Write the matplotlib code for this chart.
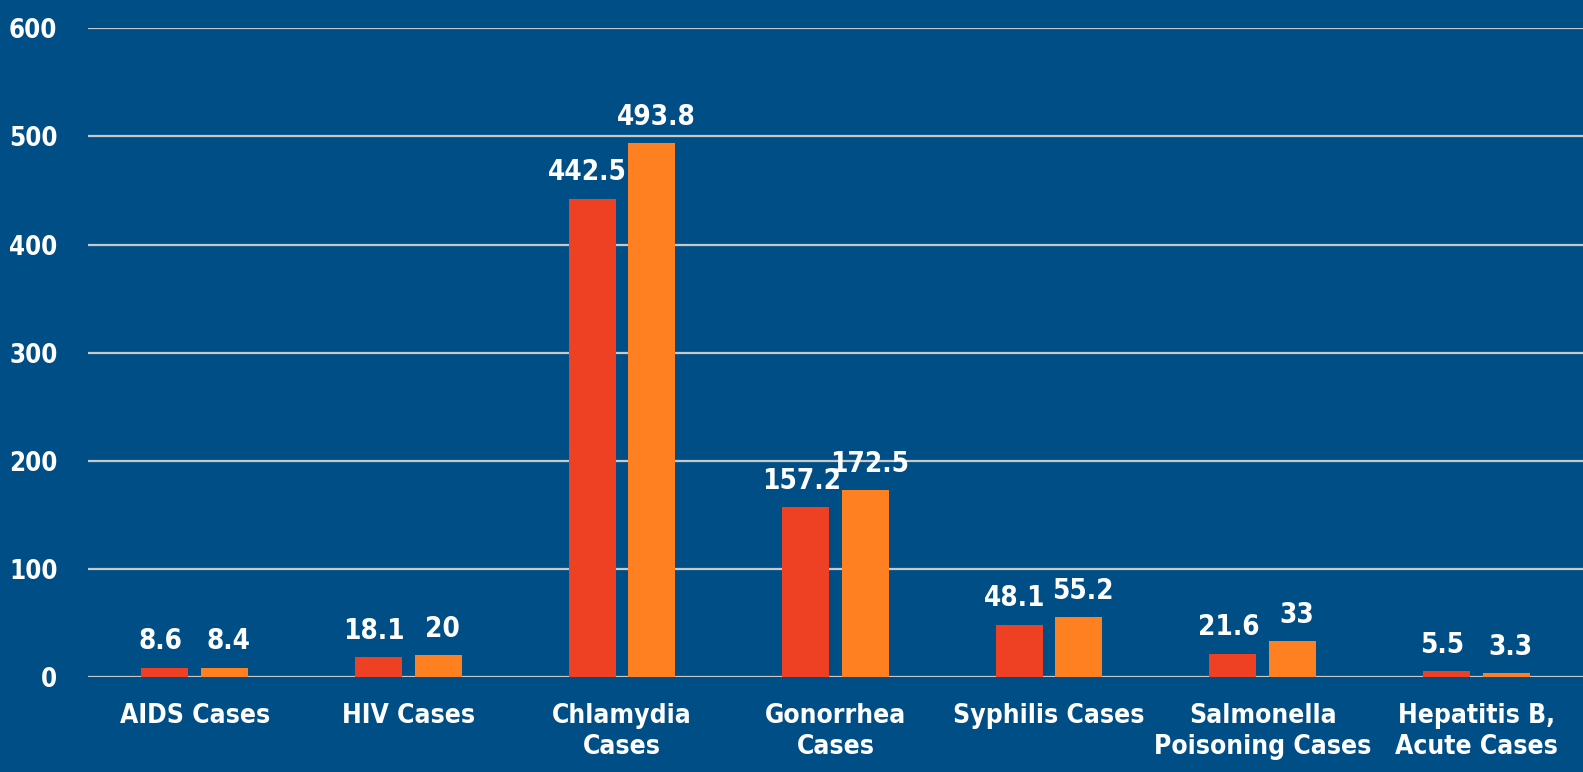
import numpy as np
import matplotlib.pyplot as plt

categories = ['AIDS Cases', 'HIV Cases', 'Chlamydia\nCases', 'Gonorrhea\nCases',
              'Syphilis Cases', 'Salmonella\nPoisoning Cases', 'Hepatitis B,\nAcute Cases']
series_a = [8.6, 18.1, 442.5, 157.2, 48.1, 21.6, 5.5]
series_b = [8.4, 20, 493.8, 172.5, 55.2, 33, 3.3]
yticks = [0, 100, 200, 300, 400, 500, 600]

bg = '#004E86'
red = '#EE4123'
orange = '#FF8021'

plt.rcParams['font.family'] = ['DejaVu Sans']
plt.rcParams['font.stretch'] = 'condensed'
plt.rcParams['font.weight'] = 'bold'

fig = plt.figure(figsize=(15.83, 7.72), dpi=100, facecolor=bg)
ax = fig.add_axes([0.0556, 0.1231, 0.9444, 0.8402], facecolor=bg)

x = np.arange(len(categories))
w = 0.22
off = 0.14
bars_a = ax.bar(x - off, series_a, width=w, color=red, zorder=3)
bars_b = ax.bar(x + off, series_b, width=w, color=orange, zorder=3)

# value labels, pushed slightly apart so neighbouring numbers don't collide
for bars, vals, dx in ((bars_a, series_a, -3), (bars_b, series_b, 3)):
    for b, v in zip(bars, vals):
        ax.annotate(f'{v:g}', (b.get_x() + b.get_width() / 2, v),
                    xytext=(dx, 9), textcoords='offset points',
                    ha='center', va='bottom', color='white',
                    fontsize=20, fontweight='bold')

ax.set_xlim(-0.5, len(categories) - 0.5)
ax.set_ylim(0, 600)
ax.set_yticks(yticks)
ax.set_xticks(x)
ax.set_xticklabels(categories, linespacing=1.25)
ax.tick_params(axis='y', length=0, pad=22, labelsize=18.5, labelcolor='white')
ax.tick_params(axis='x', length=0, pad=19, labelsize=19, labelcolor='white')
ax.yaxis.grid(True, color='#C8C8C8', linewidth=1.6, zorder=0)
ax.set_axisbelow(True)
for s in ax.spines.values():
    s.set_visible(False)

fig.savefig('out.png', dpi=100, facecolor=bg)
